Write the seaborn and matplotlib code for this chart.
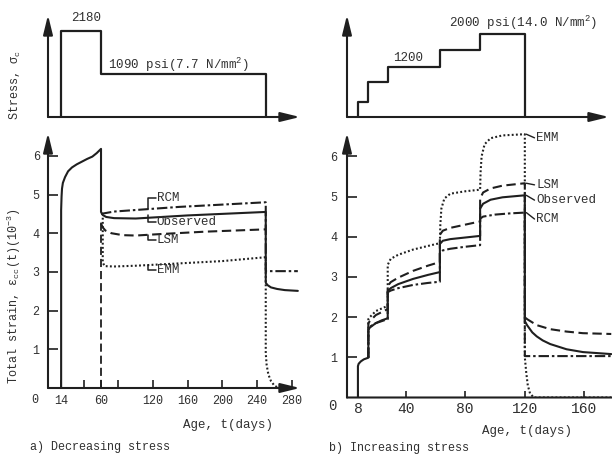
import numpy as np
import pandas as pd
import matplotlib
matplotlib.use("Agg")
import matplotlib.pyplot as plt
import seaborn as sns

# a) decreasing stress: load history (age in days, stress in psi)
a_load_days = [14, 60, 250]
a_load_psi = [2180, 1090, 0]

# b) increasing stress
b_load_days = [8, 15, 28, 63, 90, 120]
b_load_psi = [360, 840, 1200, 1620, 2000, 0]

# total strain (10^-3) read off panel a)
a_obs_days = [14, 14, 14.5, 15, 16, 18.5, 22, 26.5, 32, 38, 44, 50, 55, 60,
              60, 62, 66, 75, 100, 130, 160, 200, 250,
              250, 252, 256, 263, 272, 287]
a_obs = [0, 4.6, 4.95, 5.15, 5.3, 5.45, 5.6, 5.7, 5.78, 5.85, 5.92, 5.98, 6.07, 6.18,
         4.55, 4.47, 4.42, 4.39, 4.38, 4.42, 4.46, 4.5, 4.55,
         2.72, 2.66, 2.6, 2.56, 2.53, 2.51]
a_rcm_days = [60, 65, 75, 100, 150, 200, 250, 250, 287]
a_rcm = [4.5, 4.52, 4.56, 4.6, 4.68, 4.74, 4.8, 3.02, 3.02]
a_lsm_days = [60, 62, 65, 72, 85, 100, 130, 180, 250]
a_lsm = [4.25, 4.15, 4.07, 4.0, 3.95, 3.94, 3.98, 4.04, 4.1]
a_emm_days = [62, 62, 64, 75, 100, 150, 200, 250, 250, 251, 253, 256, 260, 265, 272]
a_emm = [4.4, 3.25, 3.15, 3.14, 3.16, 3.22, 3.28, 3.38, 0.9, 0.6, 0.35, 0.18, 0.06, 0.0, 0.0]
a_mark_day, a_mark_top = 60, 4.3

# total strain (10^-3) read off panel b)
b_obs_days = [8, 8, 8.5, 10, 12, 15, 15, 16, 20, 24, 28, 28, 30, 35, 45, 55, 63,
              63, 65, 70, 80, 90, 90, 92, 97, 105, 120,
              120, 121.5, 125, 128, 132, 137, 148, 159, 178]
b_obs = [0, 0.78, 0.84, 0.9, 0.95, 0.99, 1.68, 1.74, 1.85, 1.92, 1.97, 2.65, 2.72, 2.82, 2.95, 3.05, 3.12,
         3.82, 3.9, 3.94, 3.98, 4.02, 4.7, 4.82, 4.92, 4.98, 5.03,
         1.9, 1.8, 1.62, 1.52, 1.42, 1.33, 1.2, 1.13, 1.08]
b_rcm_days = [15, 15, 16, 20, 28, 28, 30, 35, 45, 55, 63, 63, 65, 70, 80, 90,
              90, 92, 100, 110, 120, 120, 178]
b_rcm = [0.99, 1.72, 1.76, 1.85, 1.95, 2.62, 2.66, 2.72, 2.8, 2.85, 2.88, 3.6, 3.66, 3.7, 3.75, 3.79,
         4.45, 4.5, 4.55, 4.58, 4.6, 1.03, 1.03]
b_lsm_days = [15, 15, 16, 20, 28, 28, 30, 35, 45, 55, 63, 63, 65, 70, 80, 90,
              90, 92, 97, 105, 120, 120, 121.5, 128, 137, 148, 159, 178]
b_lsm = [0.99, 1.85, 1.9, 2.05, 2.2, 2.77, 2.87, 2.98, 3.15, 3.28, 3.37, 4.05, 4.15, 4.22, 4.3, 4.38,
         4.95, 5.1, 5.2, 5.27, 5.33, 2.0, 1.95, 1.8, 1.7, 1.64, 1.6, 1.58]
b_emm_days = [15, 15, 16, 20, 28, 28, 30, 35, 45, 55, 63, 63.3, 64, 66, 70, 80, 90,
              90.3, 91, 93, 97, 105, 120, 120, 121, 122, 123.5, 126, 178]
b_emm = [0.99, 1.95, 2.0, 2.15, 2.28, 3.3, 3.45, 3.55, 3.68, 3.77, 3.84, 4.3, 4.7, 4.95, 5.07, 5.13, 5.17,
         5.6, 6.0, 6.3, 6.45, 6.52, 6.55, 1.0, 0.6, 0.3, 0.1, 0.0, 0.0]

models = ["Observed", "RCM", "LSM", "EMM"]
ink = "#1f1f1f"
txt = "#303030"

sns.set_theme(style="white")
plt.rcParams["font.family"] = ["Liberation Mono", "DejaVu Sans"]
plt.rcParams["mathtext.fontset"] = "custom"
plt.rcParams["mathtext.rm"] = "Liberation Mono"
plt.rcParams["text.color"] = txt
plt.rcParams["axes.labelcolor"] = txt
plt.rcParams["xtick.color"] = txt
plt.rcParams["ytick.color"] = txt

W, H = 612, 457


def rect(x0, x1, ytop, ybot):
    return [x0 / W, 1 - ybot / H, (x1 - x0) / W, (ybot - ytop) / H]


def load_steps(days, psi):
    xs, ys, prev = [], [], 0
    for d, p in zip(days, psi):
        xs += [d, d]
        ys += [prev, p]
        prev = p
    return xs, ys


def strain_frame(parts):
    return pd.concat([pd.DataFrame({"t": t, "strain": s, "model": m}) for m, t, s in parts],
                     ignore_index=True)


def axis_arrows(ax, right_arrow=True):
    for side in ["top", "right", "left", "bottom"]:
        ax.spines[side].set_visible(False)
    style = "-|>,head_length=0.9,head_width=0.22"
    ax.annotate("", xy=(0, 1), xytext=(0, 0), xycoords="axes fraction",
                arrowprops=dict(arrowstyle=style, color=ink, lw=1.5, shrinkA=0, shrinkB=0,
                                mutation_scale=13))
    ax.annotate("", xy=(1, 0), xytext=(0, 0), xycoords="axes fraction",
                arrowprops=dict(arrowstyle=style if right_arrow else "-", color=ink, lw=1.5,
                                shrinkA=0, shrinkB=0, mutation_scale=13))


dash_map = {"Observed": "", "RCM": (5, 1.4, 1.2, 1.4), "LSM": (4.5, 2.2), "EMM": (0.9, 1.1)}

fig = plt.figure(figsize=(6.12, 4.57), dpi=100)

# ---------------- a) stress history
ax1 = fig.add_axes(rect(48, 300, 15, 117))
xs, ys = load_steps(a_load_days, a_load_psi)
sns.lineplot(x=xs, y=ys, ax=ax1, estimator=None, sort=False, color=ink, lw=1.6)
ax1.set_xlim(-1.15, 289.5)
ax1.set_ylim(0, 2586)
ax1.set_xticks([])
ax1.set_yticks([])
axis_arrows(ax1)
ax1.text(42.7, 2510, "2180", ha="center", va="center", fontsize=9)
ax1.text(68, 1330, "1090 psi(7.7 N/mm$^\\mathregular{2}$)", ha="left", va="center", fontsize=9)
ax1.set_ylabel("Stress, σ$_\\mathregular{c}$", fontsize=8.5)
ax1.yaxis.set_label_coords(-0.1, 0.31)

# ---------------- a) strain
ax2 = fig.add_axes(rect(48, 300, 133, 388))
dfa = strain_frame([("Observed", a_obs_days, a_obs), ("RCM", a_rcm_days, a_rcm),
                    ("LSM", a_lsm_days, a_lsm), ("EMM", a_emm_days, a_emm)])
ax2.plot([a_mark_day, a_mark_day], [0, a_mark_top], color=ink, lw=1.3, dashes=(4.5, 2.2))
sns.lineplot(data=dfa, x="t", y="strain", style="model", style_order=models, dashes=dash_map,
             estimator=None, sort=False, color=ink, lw=1.5, legend=False, ax=ax2)
ax2.set_xlim(-1.15, 289.5)
ax2.set_ylim(0, 6.59)
axis_arrows(ax2)
ax2.set_xticks([14, 60, 120, 160, 200, 240, 280])
ax2.set_xticks([40, 80], minor=True)
ax2.set_yticks([1, 2, 3, 4, 5, 6])
ax2.tick_params(axis="y", which="both", direction="in", length=7, width=1.2, pad=6, labelsize=8.5,
                left=True, color=ink)
ax2.tick_params(axis="x", which="both", direction="in", length=6, width=1.2, pad=5, labelsize=8.5,
                bottom=True, color=ink)
ax2.set_xlabel("Age, t(days)", fontsize=9)
ax2.xaxis.set_label_coords(0.714, -0.12)
ax2.set_ylabel("Total strain, ε$_\\mathregular{cc}$(t)(10$^\\mathregular{-3}$)", fontsize=8.5)
ax2.yaxis.set_label_coords(-0.1, 0.36)

# bracket tags for panel a)
a_tags = [("RCM", a_rcm_days, a_rcm, 4.91), ("Observed", a_obs_days[-9:], a_obs[-9:], 4.29),
          ("LSM", a_lsm_days, a_lsm, 3.82), ("EMM", a_emm_days, a_emm, 3.05)]
for name, t, s, ty in a_tags:
    y0 = np.interp(114, t, s)
    ax2.plot([114, 114, 123], [y0, ty, ty], color=ink, lw=1.1)
    ax2.text(124, ty, name, ha="left", va="center", fontsize=9)

# ---------------- b) stress history
ax3 = fig.add_axes(rect(347, 609, 15, 117))
xs, ys = load_steps(b_load_days, b_load_psi)
sns.lineplot(x=xs, y=ys, ax=ax3, estimator=None, sort=False, color=ink, lw=1.6)
ax3.set_xlim(0.67, 176.5)
ax3.set_ylim(0, 2458)
ax3.set_xticks([])
ax3.set_yticks([])
axis_arrows(ax3)
ax3.text(41.6, 1422, "1200", ha="center", va="center", fontsize=9)
ax3.text(69, 2265, "2000 psi(14.0 N/mm$^\\mathregular{2}$)", ha="left", va="center", fontsize=9)

# ---------------- b) strain
ax4 = fig.add_axes(rect(347, 612, 133, 397.5))
dfb = strain_frame([("Observed", b_obs_days, b_obs), ("RCM", b_rcm_days, b_rcm),
                    ("LSM", b_lsm_days, b_lsm), ("EMM", b_emm_days, b_emm)])
sns.lineplot(data=dfb, x="t", y="strain", style="model", style_order=models, dashes=dash_map,
             estimator=None, sort=False, color=ink, lw=1.5, legend=False, ax=ax4)
ax4.set_xlim(0.67, 178.5)
ax4.set_ylim(0, 6.58)
axis_arrows(ax4, right_arrow=False)
ax4.set_xticks([8, 40, 80, 120, 160])
ax4.set_yticks([1, 2, 3, 4, 5, 6])
ax4.tick_params(axis="y", direction="in", length=7, width=1.2, pad=7, labelsize=8.5,
                left=True, color=ink)
ax4.tick_params(axis="x", direction="in", length=5, width=1.2, pad=3, labelsize=10.5,
                bottom=True, color=ink)
ax4.set_ylabel("")
ax4.set_xlabel("Age, t(days)", fontsize=9)
ax4.xaxis.set_label_coords(0.678, -0.105)

b_tags = [("EMM", b_emm[b_emm_days.index(120)], 6.46), ("LSM", b_lsm[b_lsm_days.index(120)], 5.29),
          ("Observed", b_obs[b_obs_days.index(120)], 4.91), ("RCM", b_rcm[b_rcm_days.index(120)], 4.44)]
for name, y0, ty in b_tags:
    ax4.plot([121, 126.5], [y0, ty], color=ink, lw=1.0)
    ax4.text(127.5, ty, name, ha="left", va="center", fontsize=9)

# origin labels and captions
fig.text(35 / W, 1 - 400 / H, "0", ha="center", va="center", fontsize=8.5)
fig.text(332 / W, 1 - 406 / H, "0", ha="center", va="center", fontsize=10)
fig.text(30 / W, 1 - 447 / H, "a) Decreasing stress", ha="left", va="center", fontsize=8.5)
fig.text(329 / W, 1 - 448 / H, "b) Increasing stress", ha="left", va="center", fontsize=8.5)

fig.savefig("out.png", dpi=100)
